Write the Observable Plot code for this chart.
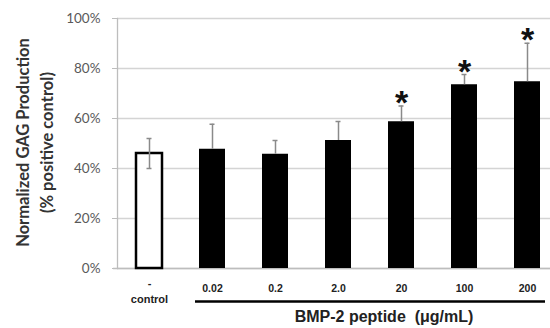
<!DOCTYPE html>
<html><head><meta charset="utf-8">
<script src="https://cdn.jsdelivr.net/npm/d3@7"></script>
<script src="https://cdn.jsdelivr.net/npm/@observablehq/plot@0.6"></script>
<style>html,body{margin:0;padding:0;background:#fff;overflow:hidden}</style>
</head><body><div id="chart"></div>
<script>
const groups = ["control", "0.02", "0.2", "2.0", "20", "100", "200"];
const tickLabels = ["", "0.02", "0.2", "2.0", "20", "100", "200"];
const values = [46, 47.7, 45.7, 51.2, 58.7, 73.5, 74.7];
const errors = [6, 10, 5.5, 7.6, 6.3, 4.1, 15.4];
const significant = [false, false, false, false, true, true, true];
const yTicks = [0, 20, 40, 60, 80, 100];
const controlLines = ["-", "control"];
const treatmentTitle = "BMP-2 peptide\u00a0 (\u03bcg/mL)";
const yTitle = "Normalized GAG Production\n(% positive control)";

const data = groups.map((g, i) => ({
  group: g, label: tickLabels[i], value: values[i], err: errors[i],
  sig: significant[i], control: i === 0
}));
const treated = data.filter(d => !d.control);
const ctrl = data.filter(d => d.control);

const arial = "'Liberation Sans', Arial, sans-serif";
const errColor = "#8a8a8a";

const plot = Plot.plot({
  width: 550, height: 328,
  marginTop: 18, marginBottom: 60, marginLeft: 117, marginRight: 0,
  style: {fontFamily: "Lato, 'Open Sans', sans-serif", background: "#fff", overflow: "visible"},
  x: {domain: groups, paddingInner: 0.59, paddingOuter: 0.23, align: 0.65, axis: null},
  y: {domain: [0, 100], axis: null},
  marks: [
    Plot.gridY({ticks: yTicks, stroke: "#d4d4d4", strokeOpacity: 1, strokeWidth: 1.3}),
    Plot.frame({anchor: "left", stroke: "#bdbdbd", strokeWidth: 1.3}),
    Plot.ruleY([0], {stroke: "#bdbdbd", strokeWidth: 1.3, insetLeft: -4}),
    Plot.axisY({ticks: yTicks, tickFormat: d => d + "%", tickSize: 5, tickPadding: 12,
      fontSize: 13.5, fill: "#595959", stroke: "#bdbdbd", label: null}),
    Plot.barY(treated, {x: "group", y: "value", fill: "black"}),
    Plot.barY(ctrl, {x: "group", y: "value", fill: "white", stroke: "black", strokeWidth: 2.5}),
    Plot.ruleX(data, {x: "group", y1: d => d.control ? d.value - d.err : d.value, y2: d => d.value + d.err,
      stroke: errColor, strokeWidth: 1.5}),
    Plot.tickY(data, {x: "group", y: d => d.value + d.err, stroke: errColor, strokeWidth: 1.5,
      insetLeft: 10.5, insetRight: 10.5}),
    Plot.tickY(ctrl, {x: "group", y: d => d.value - d.err, stroke: errColor, strokeWidth: 1.5,
      insetLeft: 10.5, insetRight: 10.5}),
    Plot.text(data.filter(d => d.sig), {x: "group", y: d => d.value + d.err, text: () => "*",
      fontSize: 34, fontWeight: "bold", fontFamily: arial, lineAnchor: "top", dy: -16, fill: "#111"}),
    Plot.text(treated, {x: "group", text: "label", frameAnchor: "bottom", lineAnchor: "top", dy: 16,
      fontSize: 10.5, fontWeight: "bold", fontFamily: arial, fill: "#222", letterSpacing: "0.5px"}),
    Plot.text(ctrl, {x: "group", text: () => controlLines[0], frameAnchor: "bottom", lineAnchor: "top", dy: 11,
      fontSize: 11, fontWeight: "bold", fontFamily: arial, fill: "#222"}),
    Plot.text(ctrl, {x: "group", text: () => controlLines[1], frameAnchor: "bottom", lineAnchor: "top", dy: 27,
      fontSize: 11, fontWeight: "bold", fontFamily: arial, fill: "#222"}),
    Plot.ruleY([0], {x1: () => groups[1], x2: () => groups[groups.length - 1], dy: 33,
      stroke: "black", strokeWidth: 2.5, insetLeft: -4, insetRight: -5}),
    Plot.text([treatmentTitle], {frameAnchor: "bottom", text: d => d, dx: 50, dy: 42,
      lineAnchor: "top", fontSize: 16, fontWeight: "bold", fontFamily: arial, fill: "#222"}),
    Plot.text([yTitle], {frameAnchor: "left", text: d => d, rotate: -90, dx: -84, dy: -1, lineAnchor: "middle",
      textAnchor: "middle", lineHeight: 1.42, fontSize: 16.5, fontWeight: "bold", fill: "#333"})
  ]
});
document.getElementById("chart").appendChild(plot);
</script>
</body></html>
